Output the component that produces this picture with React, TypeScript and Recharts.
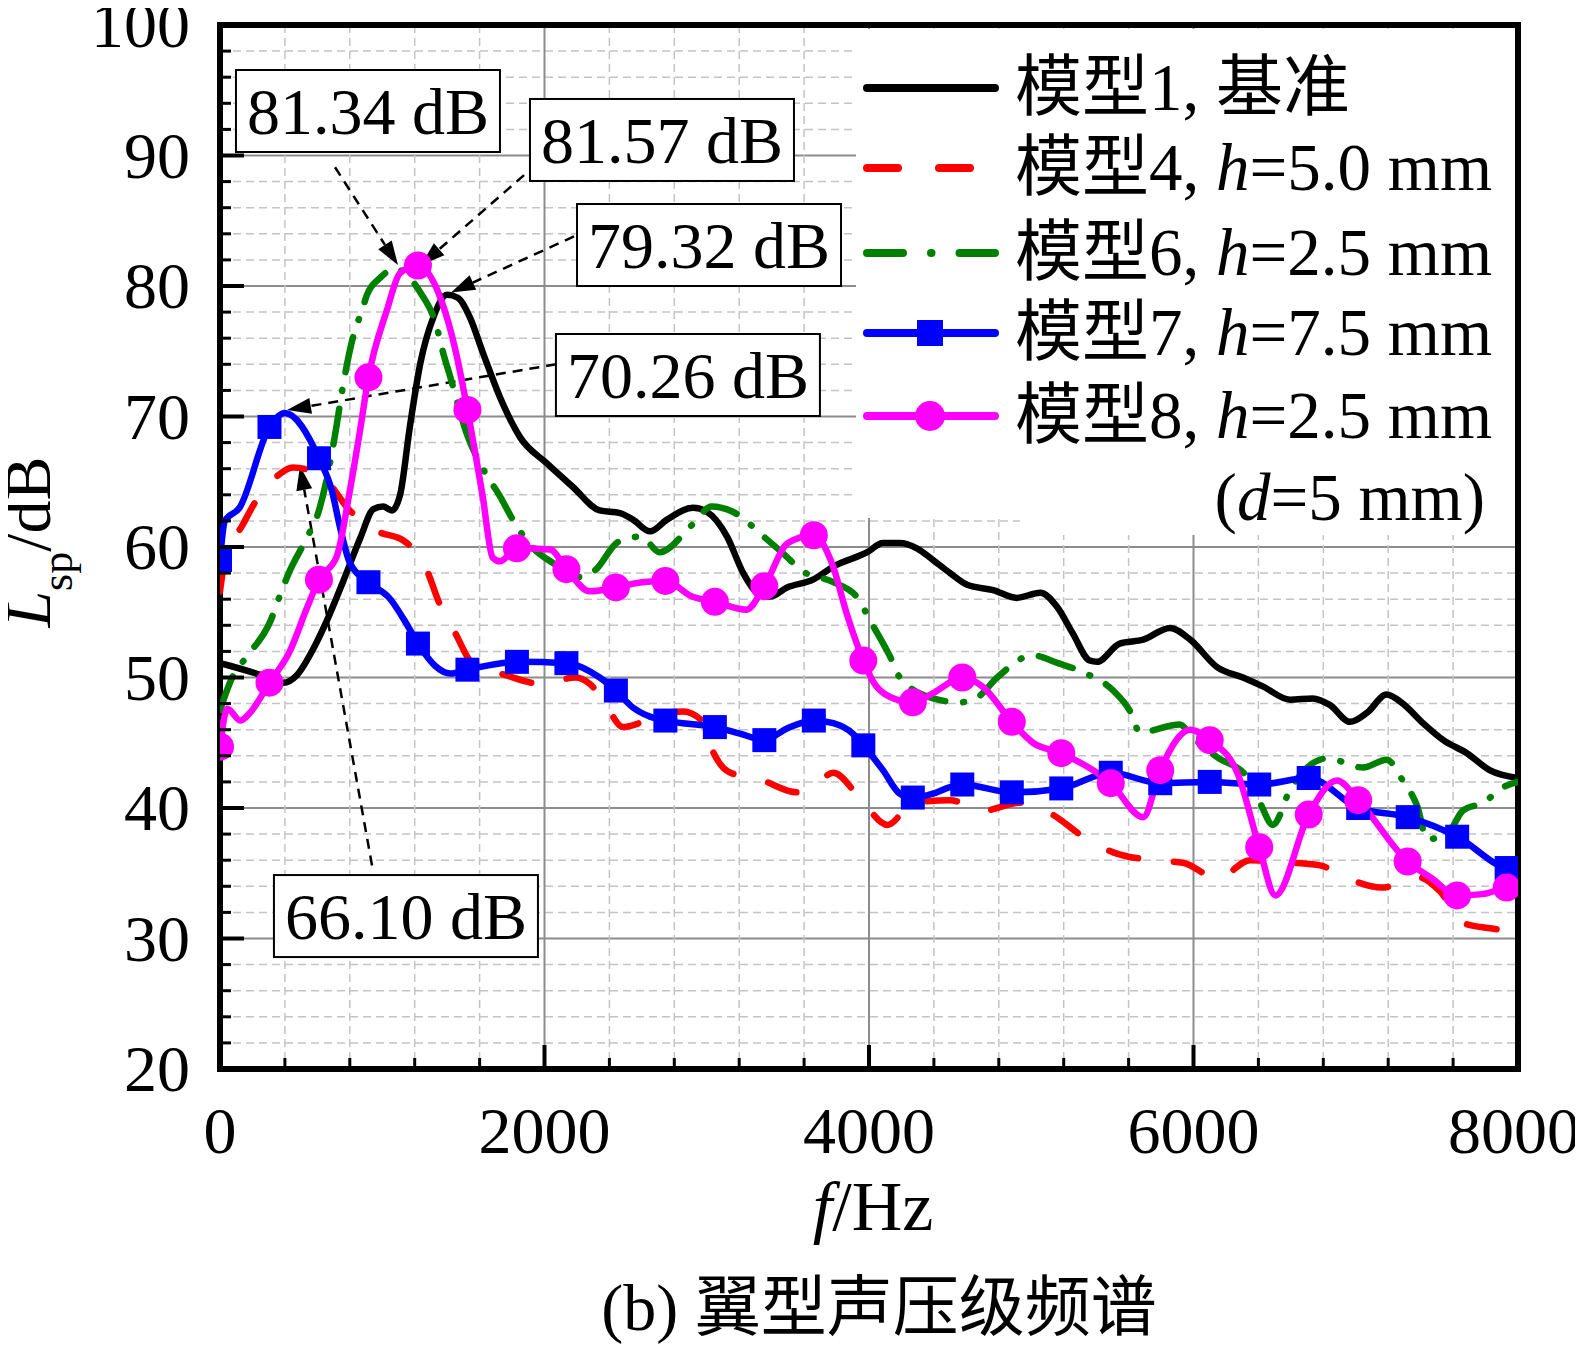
import React from "react";
import {
  LineChart,
  Line,
  XAxis,
  YAxis,
  CartesianGrid,
  ReferenceArea,
  ReferenceLine,
  ReferenceDot,
} from "recharts";

const FONT = "'Liberation Serif', 'Times New Roman', 'Noto Sans CJK SC', serif";

const W = 1583;
const H = 1345;

// ---------- axes ----------
const xTicks = [0, 400, 800, 1200, 1600, 2000, 2400, 2800, 3200, 3600, 4000, 4400, 4800, 5200, 5600, 6000, 6400, 6800, 7200, 7600, 8000];
const xLabelTicks = [0, 2000, 4000, 6000, 8000];
const yTicks = [20, 22, 24, 26, 28, 30, 32, 34, 36, 38, 40, 42, 44, 46, 48, 50, 52, 54, 56, 58, 60, 62, 64, 66, 68, 70, 72, 74, 76, 78, 80, 82, 84, 86, 88, 90, 92, 94, 96, 98, 100];
const yLabelTicks = [20, 30, 40, 50, 60, 70, 80, 90, 100];

// ---------- series: model 1 (black, solid) ----------
const blackF = [0, 60, 250, 390, 475, 575, 660, 760, 865, 945, 1005, 1060, 1110, 1170, 1235, 1315, 1400, 1465, 1540, 1620, 1725, 1850, 2015, 2175, 2340, 2465, 2545, 2650, 2755, 2915, 3000, 3125, 3225, 3310, 3390, 3495, 3655, 3780, 3990, 4085, 4190, 4295, 4395, 4500, 4605, 4765, 4910, 5055, 5160, 5255, 5360, 5405, 5545, 5690, 5855, 5980, 6145, 6305, 6430, 6595, 6735, 6840, 6965, 7070, 7190, 7290, 7415, 7540, 7685, 7825, 8000];
const blackL = [51.1, 50.9, 50.2, 49.6, 50.2, 52.2, 54.4, 57.4, 60.7, 62.9, 63.1, 62.8, 64.0, 69.2, 74.1, 77.6, 79.32, 79.1, 77.6, 74.9, 71.5, 68.4, 66.4, 64.6, 62.8, 62.6, 62.1, 61.2, 62.1, 63.0, 62.7, 60.8, 58.0, 56.5, 56.2, 56.9, 57.5, 58.5, 59.6, 60.3, 60.3, 59.9, 59.0, 58.0, 57.1, 56.7, 56.1, 56.5, 55.4, 53.4, 51.3, 51.2, 52.6, 52.9, 53.8, 52.9, 50.8, 50.0, 49.3, 48.3, 48.4, 47.9, 46.6, 47.3, 48.7, 48.0, 46.5, 45.2, 44.2, 42.9, 42.3];

// ---------- model 4 (red, dashed) ----------
const redF = [0, 30, 140, 235, 340, 450, 630, 800, 970, 1130, 1265, 1355, 1450, 1555, 1755, 1990, 2190, 2280, 2360, 2485, 2560, 2670, 2855, 2960, 3020, 3130, 3345, 3555, 3670, 3780, 3930, 4115, 4270, 4500, 4705, 4930, 5130, 5320, 5505, 5745, 5935, 6150, 6350, 6615, 6780, 6950, 7160, 7385, 7520, 7660, 7815, 8000];
const redL = [56.6, 59.0, 61.7, 63.8, 65.3, 66.1, 65.4, 62.8, 61.2, 60.5, 58.5, 55.6, 53.4, 51.1, 50.2, 49.5, 50.0, 49.5, 48.3, 46.2, 46.4, 47.0, 47.4, 46.8, 44.8, 42.8, 42.1, 41.2, 41.8, 42.7, 41.0, 38.7, 40.4, 40.6, 39.8, 40.4, 39.5, 37.8, 36.6, 36.0, 35.8, 34.6, 36.0, 35.8, 35.6, 34.6, 33.9, 34.7, 33.6, 31.2, 30.8, 30.6];

// ---------- model 6 (green, dash-dot) ----------
const greenF = [0, 75, 165, 310, 370, 420, 535, 605, 645, 720, 740, 820, 880, 905, 985, 1080, 1170, 1235, 1335, 1375, 1420, 1520, 1620, 1725, 1800, 1930, 2050, 2220, 2310, 2455, 2595, 2710, 2910, 3030, 3160, 3360, 3480, 3585, 3780, 3930, 4005, 4130, 4190, 4395, 4560, 4670, 4790, 5010, 5165, 5320, 5505, 5610, 5670, 5915, 5995, 6145, 6330, 6410, 6490, 6595, 6825, 7045, 7190, 7290, 7380, 7440, 7580, 7660, 7785, 7910, 8000];
const greenL = [47.5, 50.0, 51.6, 54.3, 56.3, 57.9, 60.7, 62.6, 64.5, 69.4, 71.0, 76.1, 78.3, 79.3, 80.6, 81.34, 80.6, 79.5, 76.9, 74.9, 73.0, 68.7, 66.0, 63.9, 62.2, 59.9, 58.8, 57.7, 58.2, 60.4, 60.8, 59.6, 61.7, 63.1, 62.7, 60.7, 59.4, 58.2, 57.3, 56.1, 54.4, 51.6, 50.0, 48.4, 48.1, 48.5, 50.0, 51.7, 51.1, 50.4, 49.0, 47.4, 45.8, 46.4, 45.4, 43.9, 42.4, 40.4, 38.7, 41.4, 43.8, 43.1, 43.7, 42.1, 40.1, 37.6, 38.3, 39.8, 40.4, 41.6, 42.0];

// ---------- marker frequencies (models 7 & 8) ----------
const markerF = [0, 305, 610, 915, 1220, 1525, 1830, 2135, 2440, 2745, 3050, 3355, 3660, 3965, 4270, 4575, 4880, 5185, 5490, 5795, 6100, 6405, 6710, 7015, 7320, 7625, 7930];

// ---------- model 7 (blue, squares) ----------
const blueMarkerL = [59.0, 69.2, 66.8, 57.3, 52.6, 50.6, 51.2, 51.1, 49.0, 46.7, 46.2, 45.2, 46.7, 44.8, 40.8, 41.8, 41.2, 41.5, 42.7, 41.9, 42.0, 41.8, 42.3, 40.0, 39.3, 37.8, 35.4];
const blueExtraF = [30, 120, 400, 690, 740, 800, 1050, 1150, 1325, 1420, 2340, 2545, 2650, 3205, 3495, 3780, 3900, 4086, 4190, 4394, 4499, 8000];
const blueExtraL = [62.0, 63.0, 70.26, 64.3, 61.5, 58.8, 56.0, 54.1, 50.9, 50.3, 50.0, 47.7, 47.0, 45.7, 46.1, 46.5, 45.7, 42.9, 41.1, 41.1, 41.6, 35.3];

// ---------- model 8 (magenta, circles) ----------
const magentaMarkerL = [44.7, 49.6, 57.5, 73.0, 81.57, 70.5, 59.9, 58.3, 56.9, 57.4, 55.8, 57.0, 60.9, 51.3, 48.1, 50.0, 46.6, 44.2, 41.9, 42.9, 45.2, 37.0, 39.5, 40.6, 35.9, 33.3, 33.9];
const magentaExtraF = [45, 125, 185, 430, 535, 720, 800, 860, 1030, 1110, 1355, 1460, 1620, 1680, 1725, 2035, 2280, 2600, 2910, 3245, 3500, 3770, 3870, 4020, 4130, 4395, 4700, 5010, 5690, 5980, 6270, 6505, 6885, 7470, 7780, 8000];
const magentaExtraL = [47.6, 46.7, 47.3, 52.0, 55.3, 59.3, 64.3, 68.7, 78.2, 81.0, 79.2, 74.6, 63.8, 59.2, 58.9, 59.8, 56.6, 57.3, 56.2, 55.2, 60.3, 58.8, 54.6, 49.8, 48.5, 48.8, 49.3, 45.0, 39.3, 46.0, 42.7, 33.3, 42.1, 34.6, 33.4, 34.0];

// ---------- legend ----------
const legendPrefix = ["模型1, 基准", "模型4, ", "模型6, ", "模型7, ", "模型8, "];
const legendItalic = ["", "h", "h", "h", "h"];
const legendSuffix = ["", "=5.0 mm", "=2.5 mm", "=7.5 mm", "=2.5 mm"];
const colors = ["#000000", "#ff0000", "#008000", "#0000ff", "#ff00ff"];

// ---------- annotations ----------
const annoText = ["81.34 dB", "81.57 dB", "79.32 dB", "70.26 dB", "66.10 dB"];
const annoBoxF = [912, 2724, 3014, 2884, 1146];
const annoBoxL = [93.41, 91.19, 83.14, 73.18, 31.72];
const arrowFromF = [709, 1874, 2182, 2071, 937];
const arrowFromL = [89.1, 88.5, 83.8, 74.0, 35.6];
const arrowToF = [1097, 1239, 1424, 413, 493];
const arrowToL = [81.6, 81.6, 79.5, 70.5, 66.2];

// ---------- build data ----------
const toData = (fs: number[], ls: number[]) => fs.map((f, i) => ({ f, L: ls[i] }));
const buildCurve = (mf: number[], ml: number[], ef: number[], el: number[]) => {
  const pts = mf
    .map((f, i) => ({ f, L: ml[i], m: true }))
    .concat(ef.map((f, i) => ({ f, L: el[i], m: false })));
  pts.sort((a, b) => a.f - b.f);
  return pts;
};

const blackData = toData(blackF, blackL);
const redData = toData(redF, redL);
const greenData = toData(greenF, greenL);
const blueData = buildCurve(markerF, blueMarkerL, blueExtraF, blueExtraL);
const magentaData = buildCurve(markerF, magentaMarkerL, magentaExtraF, magentaExtraL);

// ---------- renderers ----------
const gridLine = (p: any) => {
  const major = p.index % 5 === 0;
  return (
    <line
      key={`g-${p.x1}-${p.y1}-${p.x2}-${p.y2}`}
      x1={p.x1}
      y1={p.y1}
      x2={p.x2}
      y2={p.y2}
      stroke={major ? "#8c8c8c" : "#c4c4c4"}
      strokeWidth={major ? 2 : 1.5}
      strokeDasharray={major ? undefined : "8 5"}
    />
  );
};

const XTick = (p: any) => {
  const v = p.payload.value;
  const major = xLabelTicks.includes(v);
  const isLast = v === xLabelTicks[xLabelTicks.length - 1];
  return (
    <g>
      <line x1={p.x} x2={p.x} y1={p.y} y2={p.y - (major ? 24 : 11)} stroke="#000" strokeWidth={major ? 4 : 3} />
      {major && (
        <text
          x={isLast ? p.x - 4 : p.x}
          y={p.y + 84}
          textAnchor="middle"
          fontFamily={FONT}
          fontSize={66}
          fill="#000"
        >
          {v}
        </text>
      )}
    </g>
  );
};

const YTick = (p: any) => {
  const v = p.payload.value;
  const major = yLabelTicks.includes(v);
  return (
    <g>
      <line x1={p.x} x2={p.x + (major ? 24 : 11)} y1={p.y} y2={p.y} stroke="#000" strokeWidth={major ? 4 : 3} />
      {major && (
        <text x={p.x - 30} y={p.y + 22} textAnchor="end" fontFamily={FONT} fontSize={66} fill="#000">
          {v}
        </text>
      )}
    </g>
  );
};

const squareDot = (p: any) =>
  p.payload && p.payload.m ? (
    <rect key={`sq-${p.index}`} x={p.cx - 12} y={p.cy - 12} width={24} height={24} fill="#0000ff" />
  ) : (
    <g key={`sq-${p.index}`} />
  );

const circleDot = (p: any) =>
  p.payload && p.payload.m ? (
    <circle key={`ci-${p.index}`} cx={p.cx} cy={p.cy} r={14} fill="#ff00ff" />
  ) : (
    <g key={`ci-${p.index}`} />
  );

const makeArrow = (p: any) => {
  const { x1, y1, x2, y2 } = p;
  const dx = x2 - x1;
  const dy = y2 - y1;
  const len = Math.sqrt(dx * dx + dy * dy) || 1;
  const ux = dx / len;
  const uy = dy / len;
  const ah = 24;
  const aw = 8;
  const bx = x2 - ux * ah;
  const by = y2 - uy * ah;
  return (
    <g>
      <line x1={x1} y1={y1} x2={bx} y2={by} stroke="#000" strokeWidth={2.5} strokeDasharray="10 7" />
      <polygon
        points={`${x2},${y2} ${bx - uy * aw},${by + ux * aw} ${bx + uy * aw},${by - ux * aw}`}
        fill="#000"
      />
    </g>
  );
};

const makeBox = (text: string) => (p: any) => (
  <g>
    <rect x={p.cx - 132} y={p.cy - 41} width={264} height={82} fill="#fff" stroke="#000" strokeWidth={2} />
    <text x={p.cx} y={p.cy + 23} textAnchor="middle" fontFamily={FONT} fontSize={66} fill="#000">
      {text}
    </text>
  </g>
);

// legend geometry (page coords)
const legendRowY = [88, 168, 253, 333, 416];

export default function App() {
  return (
    <div style={{ position: "relative", left: -8, top: -8, width: W, height: H, background: "#fff" }}>
      <LineChart width={W} height={H} margin={{ top: 25, right: 65, bottom: 176, left: 20 }}>
        <CartesianGrid horizontal={gridLine} vertical={gridLine} />
        <XAxis
          type="number"
          dataKey="f"
          domain={[0, 8000]}
          ticks={xTicks}
          interval={0}
          allowDataOverflow
          height={100}
          axisLine={false}
          tickLine={false}
          tickSize={0}
          tickMargin={0}
          tick={(p: any) => <XTick {...p} />}
        />
        <YAxis
          type="number"
          domain={[20, 100]}
          ticks={yTicks}
          interval={0}
          allowDataOverflow
          width={200}
          axisLine={false}
          tickLine={false}
          tickSize={0}
          tickMargin={0}
          tick={(p: any) => <YTick {...p} />}
        />
        {annoText.map((t, i) => (
          <ReferenceLine
            key={`arr-${i}`}
            segment={[
              { x: arrowFromF[i], y: arrowFromL[i] },
              { x: arrowToF[i], y: arrowToL[i] },
            ]}
            shape={makeArrow}
          />
        ))}
        <Line data={blackData} dataKey="L" type="monotone" stroke={colors[0]} strokeWidth={6.5} dot={false} isAnimationActive={false} />
        <Line data={redData} dataKey="L" type="monotone" stroke={colors[1]} strokeWidth={6.5} strokeDasharray="30 36" strokeLinecap="round" dot={false} isAnimationActive={false} />
        <Line data={greenData} dataKey="L" type="monotone" stroke={colors[2]} strokeWidth={6.5} strokeDasharray="36 18 1 18" strokeLinecap="round" dot={false} isAnimationActive={false} />
        <Line data={blueData} dataKey="L" type="monotone" stroke={colors[3]} strokeWidth={6.5} dot={squareDot} isAnimationActive={false} />
        <Line data={magentaData} dataKey="L" type="monotone" stroke={colors[4]} strokeWidth={6.5} dot={circleDot} isAnimationActive={false} />
        {annoText.map((t, i) => (
          <ReferenceDot key={`box-${i}`} x={annoBoxF[i]} y={annoBoxL[i]} r={0} shape={makeBox(t)} />
        ))}
        <ReferenceArea x1={0} x2={8000} y1={20} y2={100} fill="none" fillOpacity={0} stroke="#000" strokeWidth={6} />
      </LineChart>

      <svg
        width={W}
        height={H}
        style={{ position: "absolute", left: 0, top: 0, pointerEvents: "none" }}
      >
        {/* legend background */}
        <rect x={856} y={29} width={659} height={489} fill="#fff" />
        <rect x={1020} y={513} width={495} height={22} fill="#fff" />
        {/* legend symbols */}
        <line x1={867} x2={995} y1={legendRowY[0]} y2={legendRowY[0]} stroke={colors[0]} strokeWidth={8} strokeLinecap="round" />
        <line x1={867} x2={970} y1={legendRowY[1]} y2={legendRowY[1]} stroke={colors[1]} strokeWidth={8} strokeLinecap="round" strokeDasharray="31 41" />
        <line x1={867} x2={995} y1={legendRowY[2]} y2={legendRowY[2]} stroke={colors[2]} strokeWidth={8} strokeLinecap="round" strokeDasharray="36 28 0.5 28" />
        <line x1={867} x2={995} y1={legendRowY[3]} y2={legendRowY[3]} stroke={colors[3]} strokeWidth={8} strokeLinecap="round" />
        <rect x={930 - 13} y={legendRowY[3] - 13} width={26} height={26} fill={colors[3]} />
        <line x1={867} x2={995} y1={legendRowY[4]} y2={legendRowY[4]} stroke={colors[4]} strokeWidth={8} strokeLinecap="round" />
        <circle cx={930} cy={legendRowY[4]} r={15} fill={colors[4]} />
        {legendPrefix.map((pre, i) => (
          <text key={`lt-${i}`} x={1015} y={legendRowY[i] + 22} fontFamily={FONT} fontSize={67} fill="#000">
            {pre}
            {legendItalic[i] && <tspan fontStyle="italic">{legendItalic[i]}</tspan>}
            {legendSuffix[i]}
          </text>
        ))}
        <text x={1485} y={520} textAnchor="end" fontFamily={FONT} fontSize={67} fill="#000">
          (<tspan fontStyle="italic">d</tspan>=5 mm)
        </text>

        {/* axis titles */}
        <text x={873} y={1230} textAnchor="middle" fontFamily={FONT} fontSize={70} fill="#000">
          <tspan fontStyle="italic">f</tspan>/Hz
        </text>
        <text
          transform="translate(50, 542) rotate(-90)"
          textAnchor="middle"
          fontFamily={FONT}
          fontSize={66}
          fill="#000"
        >
          <tspan fontStyle="italic">L</tspan>
          <tspan fontSize={44} dy={22}>sp</tspan>
          <tspan dy={-22}>/dB</tspan>
        </text>
        <text x={879} y={1330} textAnchor="middle" fontFamily={FONT} fontSize={66} fill="#000">
          (b) 翼型声压级频谱
        </text>
      </svg>
    </div>
  );
}
